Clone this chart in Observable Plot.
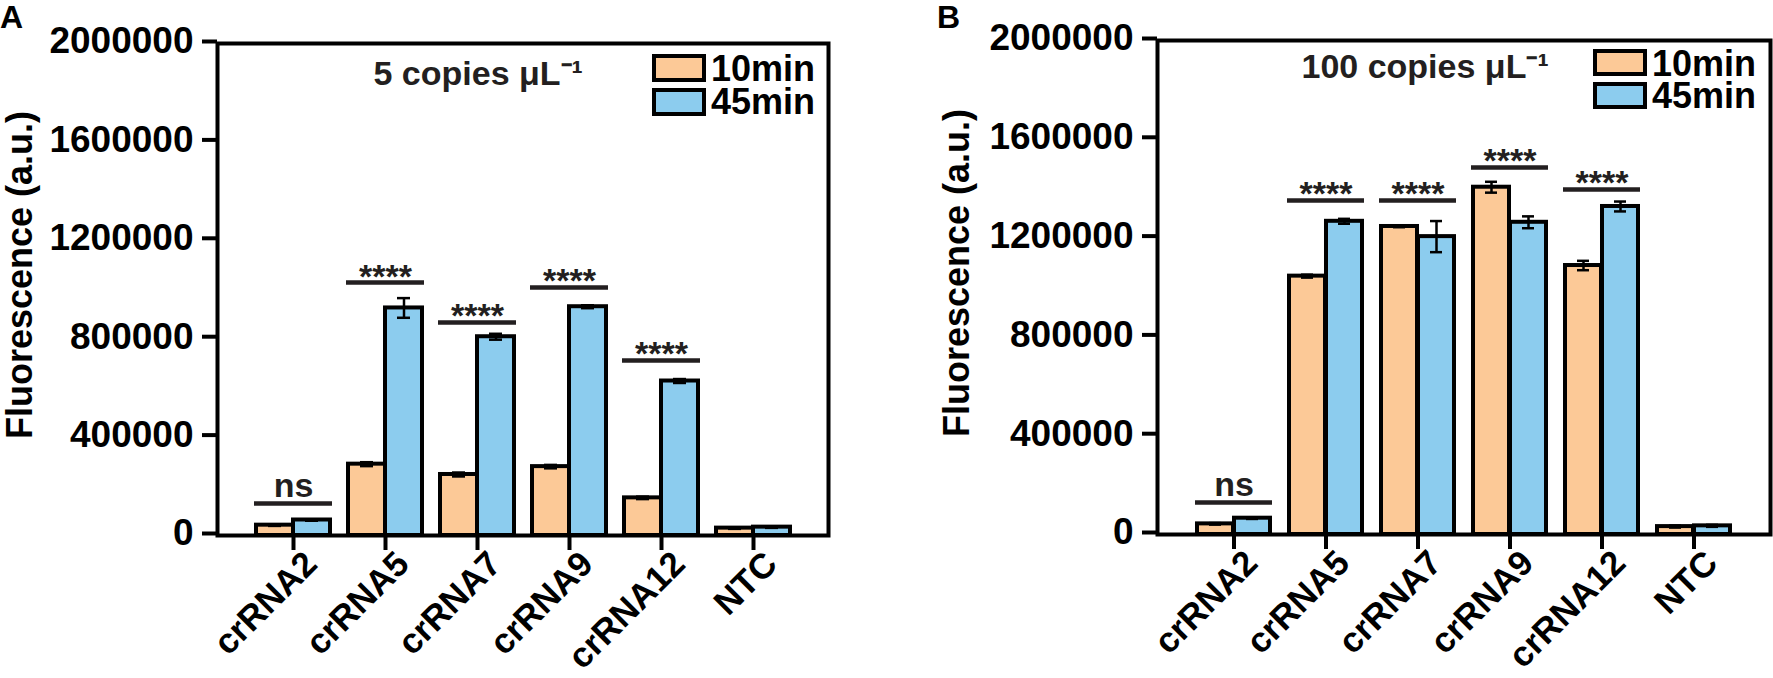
<!DOCTYPE html>
<html>
<head>
<meta charset="utf-8">
<script src="https://cdn.jsdelivr.net/npm/d3@7"></script>
<script src="https://cdn.jsdelivr.net/npm/@observablehq/plot@0.6"></script>
<style>
  html, body { margin: 0; padding: 0; background: #fff; }
  body { font-family: "Liberation Sans", Arial, Helvetica, sans-serif; }
  #wrap { position: relative; width: 1773px; height: 678px; overflow: hidden; background: #fff; }
  .panel { position: absolute; top: 0; }
  .letter { position: absolute; font-weight: bold; font-size: 32px; line-height: 32px; color: #000; }
  .lgbox { position: absolute; box-sizing: border-box; border: 4px solid #000; }
  .lgtxt { position: absolute; font-weight: bold; font-size: 36px; line-height: 32px; color: #000; white-space: nowrap; }
</style>
</head>
<body>
<div id="wrap"></div>
<script>
// ---------- data ----------
const categories = ["crRNA2", "crRNA5", "crRNA7", "crRNA9", "crRNA12", "NTC"];
const seriesNames = ["10min", "45min"];
const yTicks = [0, 400000, 800000, 1200000, 1600000, 2000000];
const yTitle = "Fluorescence (a.u.)";

// Panel A : 5 copies
const a10 = [42000, 290000, 248000, 280000, 153000, 30000];
const a10err = [3000, 8000, 8000, 7000, 5000, 3000];
const a45 = [63000, 925000, 808000, 930000, 628000, 34000];
const a45err = [3000, 40000, 12000, 6000, 8000, 3000];
const aSigCats = ["crRNA2", "crRNA5", "crRNA7", "crRNA9", "crRNA12"];
const aSigHeights = [130000, 1028000, 866000, 1008000, 711000];
const aSigLabels = ["ns", "****", "****", "****", "****"];
const aSubtitle = "5 copies \u03bcL\u207b\u00b9";

// Panel B : 100 copies
const b10 = [43000, 1046000, 1247000, 1406000, 1089000, 32000];
const b10err = [3000, 6000, 3000, 22000, 19000, 4000];
const b45 = [66000, 1268000, 1206000, 1264000, 1328000, 35000];
const b45err = [3000, 10000, 63000, 24000, 20000, 4000];
const bSigCats = ["crRNA2", "crRNA5", "crRNA7", "crRNA9", "crRNA12"];
const bSigHeights = [130000, 1352000, 1352000, 1486000, 1397000];
const bSigLabels = ["ns", "****", "****", "****", "****"];
const bSubtitle = "100 copies \u03bcL\u207b\u00b9";

const colors = ["#FCC997", "#8CCCEE"];
const font = "'Liberation Sans', Arial, Helvetica, sans-serif";
const ink = "#231f20";

function panel(o) {
  const n = categories.length;
  const step = (o.xRange[1] - o.xRange[0]) / (n - o.pad);
  const bw = step * (1 - o.pad);
  const q = bw / 4;
  const cap = 6.5;
  const rows10 = categories.map((c, i) => ({cat: c, v: o.v10[i], e: o.e10[i]}));
  const rows45 = categories.map((c, i) => ({cat: c, v: o.v45[i], e: o.e45[i]}));
  const caps10 = rows10.flatMap(d => [{cat: d.cat, y: d.v + d.e}, {cat: d.cat, y: d.v - d.e}]);
  const caps45 = rows45.flatMap(d => [{cat: d.cat, y: d.v + d.e}, {cat: d.cat, y: d.v - d.e}]);
  const sig = o.sigCats.map((c, i) => ({cat: c, h: o.sigH[i], label: o.sigL[i]}));

  return Plot.plot({
    width: o.width,
    height: 678,
    marginLeft: o.ml,
    marginRight: o.mr,
    marginTop: o.mt,
    marginBottom: o.mb,
    style: {fontFamily: font, background: "transparent", overflow: "visible", color: "#000"},
    x: {type: "band", domain: categories, range: o.xRange, paddingInner: o.pad, paddingOuter: 0, align: 0.5},
    y: {domain: [0, 2000000], nice: false},
    marks: [
      Plot.barY(rows10, {x: "cat", y: "v", fill: colors[0], stroke: "#000", strokeWidth: 4, insetRight: bw / 2}),
      Plot.barY(rows45, {x: "cat", y: "v", fill: colors[1], stroke: "#000", strokeWidth: 4, insetLeft: bw / 2}),
      Plot.ruleX(rows10, {x: "cat", y1: d => d.v - d.e, y2: d => d.v + d.e, dx: -q, stroke: "#000", strokeWidth: 2.5}),
      Plot.ruleX(rows45, {x: "cat", y1: d => d.v - d.e, y2: d => d.v + d.e, dx: q, stroke: "#000", strokeWidth: 2.5}),
      Plot.tickY(caps10, {x: "cat", y: "y", insetLeft: q - cap, insetRight: 3 * q - cap, stroke: "#000", strokeWidth: 2.5}),
      Plot.tickY(caps45, {x: "cat", y: "y", insetLeft: 3 * q - cap, insetRight: q - cap, stroke: "#000", strokeWidth: 2.5}),
      // significance
      Plot.tickY(sig, {x: "cat", y: "h", stroke: ink, strokeWidth: 4.5, insetLeft: -2, insetRight: -2}),
      Plot.text(sig.filter(d => d.label === "ns"), {x: "cat", y: "h", text: "label", dy: -17, fontSize: 34, fontWeight: "bold", fill: ink, lineAnchor: "middle"}),
      Plot.text(sig.filter(d => d.label !== "ns"), {x: "cat", y: "h", text: "label", dy: -6, fontSize: 34, fontWeight: "bold", fill: ink, lineAnchor: "middle"}),
      // subtitle
      Plot.text([o.subtitle], {frameAnchor: "top-left", text: d => d, dx: o.subDx, dy: o.subDy, fontSize: 34, fontWeight: "bold", fill: ink, lineAnchor: "middle", textAnchor: "start"}),
      // axes
      Plot.axisY({ticks: yTicks, tickSize: 15, tickPadding: 9, strokeWidth: 4, fontSize: 37, fontWeight: "bold", fill: "#000", tickFormat: d => String(d), label: null, dy: -2}),
      Plot.axisX({tickSize: 15, strokeWidth: 4, tickFormat: () => "", label: null}),
      Plot.text(categories, {x: d => d, frameAnchor: "bottom", text: d => d, rotate: -45, textAnchor: "end", lineAnchor: "top", dx: 8, dy: 13, fontSize: 35, fontWeight: "bold", fill: "#000"}),
      Plot.text([yTitle], {frameAnchor: "left", text: d => d, rotate: -90, textAnchor: "middle", lineAnchor: "middle", dx: o.titleDx, dy: -14.5, fontSize: 36, fontWeight: "bold", fill: "#000"}),
      Plot.frame({stroke: "#000", strokeWidth: 4})
    ]
  });
}

const wrap = document.getElementById("wrap");

function addPanel(left, svg) {
  const div = document.createElement("div");
  div.className = "panel";
  div.style.left = left + "px";
  div.appendChild(svg);
  wrap.appendChild(div);
}

addPanel(0, panel({
  width: 880, ml: 217, mr: 52, mt: 43, mb: 143,
  xRange: [255, 791], pad: 0.1991,
  v10: a10, e10: a10err, v45: a45, e45: a45err,
  sigCats: aSigCats, sigH: aSigHeights, sigL: aSigLabels,
  subtitle: aSubtitle, subDx: 156, subDy: 31, titleDx: -197
}));

addPanel(880, panel({
  width: 893, ml: 277, mr: 3, mt: 40, mb: 144,
  xRange: [315, 853], pad: 0.2026,
  v10: b10, e10: b10err, v45: b45, e45: b45err,
  sigCats: bSigCats, sigH: bSigHeights, sigL: bSigLabels,
  subtitle: bSubtitle, subDx: 144, subDy: 27, titleDx: -200
}));

// panel letters
function addText(cls, txt, left, top) {
  const d = document.createElement("div");
  d.className = cls; d.textContent = txt;
  d.style.left = left + "px"; d.style.top = top + "px";
  wrap.appendChild(d);
}
function addBox(left, top, w, h, color) {
  const d = document.createElement("div");
  d.className = "lgbox";
  d.style.left = left + "px"; d.style.top = top + "px";
  d.style.width = w + "px"; d.style.height = h + "px";
  d.style.background = color;
  wrap.appendChild(d);
}
addText("letter", "A", 0, 1);
addText("letter", "B", 937, 1);

// legends
addBox(652, 54, 54, 28, colors[0]);
addBox(652, 88, 54, 28, colors[1]);
addText("lgtxt", seriesNames[0], 711, 53);
addText("lgtxt", seriesNames[1], 711, 86);

addBox(1593, 49, 54, 27, colors[0]);
addBox(1593, 82, 54, 27, colors[1]);
addText("lgtxt", seriesNames[0], 1652, 48);
addText("lgtxt", seriesNames[1], 1652, 80);
</script>
</body>
</html>
